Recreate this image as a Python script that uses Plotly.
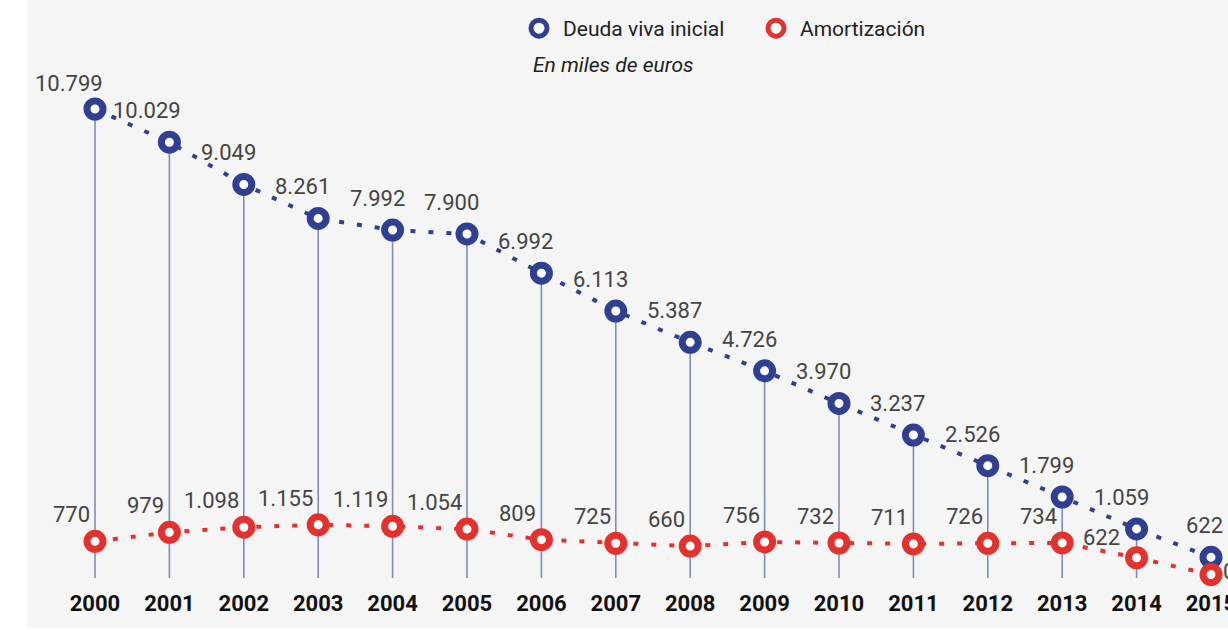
import plotly.graph_objects as go

# ---- data ----
years = list(range(2000, 2016))
deuda = [10799, 10029, 9049, 8261, 7992, 7900, 6992, 6113, 5387, 4726, 3970, 3237, 2526, 1799, 1059, 400]
amort = [770, 979, 1098, 1155, 1119, 1054, 809, 725, 660, 756, 732, 711, 726, 734, 390, 0]
deuda_labels = ["10.799", "10.029", "9.049", "8.261", "7.992", "7.900", "6.992", "6.113",
                "5.387", "4.726", "3.970", "3.237", "2.526", "1.799", "1.059", "622"]
amort_labels = ["770", "979", "1.098", "1.155", "1.119", "1.054", "809", "725",
                "660", "756", "732", "711", "726", "734", "622", "0"]
year_labels = [str(y) for y in years]
series_names = ["Deuda viva inicial", "Amortización"]
subtitle = "En miles de euros"

# ---- style ----
BLUE = "#2f3f92"
RED = "#e3312d"
STEM = "#7f8dbb"
BG = "#f5f5f5"
TXT = "#444444"
FONT = "Roboto"
STEM_BOTTOM = -80

W, H = 1228, 630
ML, MR, MT, MB = 27, 0, 0, 40

fig = go.Figure()

# stems
sx, sy = [], []
for yr, d in zip(years, deuda):
    sx += [yr, yr, None]
    sy += [d, STEM_BOTTOM, None]
fig.add_trace(go.Scatter(x=sx, y=sy, mode="lines", line=dict(color=STEM, width=1.6),
                         showlegend=False, hoverinfo="skip"))

dots = "5px,13px"
fig.add_trace(go.Scatter(x=years, y=amort, mode="lines", line=dict(color=RED, width=4, dash=dots),
                         showlegend=False, hoverinfo="skip"))
fig.add_trace(go.Scatter(x=years, y=deuda, mode="lines", line=dict(color=BLUE, width=4, dash=dots),
                         showlegend=False, hoverinfo="skip"))

mk = dict(size=16, color="white")
fig.add_trace(go.Scatter(x=years, y=deuda, mode="markers", name=series_names[0],
                         marker=dict(**mk, line=dict(color=BLUE, width=7))))
fig.add_trace(go.Scatter(x=years, y=amort, mode="markers", name=series_names[1],
                         marker=dict(**mk, line=dict(color=RED, width=7))))

# value labels
lab_font = dict(family=FONT, size=22, color=TXT)
last = len(years) - 1
for i, (yr, d, lab) in enumerate(zip(years, deuda, deuda_labels)):
    fig.add_annotation(x=yr, y=d, text=lab, showarrow=False, xanchor="right", yanchor="bottom",
                       xshift=14 if i else 10, yshift=17 if i else 11, font=lab_font)
for i, (yr, a, lab) in enumerate(zip(years, amort, amort_labels)):
    if i == last:
        fig.add_annotation(x=yr, y=a, text=lab, showarrow=False, xanchor="left", yanchor="middle",
                           xshift=10, yshift=3, font=lab_font)
    elif i == last - 1:
        fig.add_annotation(x=yr, y=a, text=lab, showarrow=False, xanchor="right", yanchor="bottom",
                           xshift=-15, yshift=6, font=lab_font)
    else:
        fig.add_annotation(x=yr, y=a, text=lab, showarrow=False, xanchor="right", yanchor="bottom",
                           xshift=-3, yshift=12, font=lab_font)

pw = W - ML - MR
ph = H - MT - MB
fig.add_annotation(xref="paper", yref="paper", x=(531 - ML) / pw, y=1 - (65 - MT) / ph,
                   xanchor="left", yanchor="middle", text=subtitle, showarrow=False,
                   font=dict(family=FONT, size=21, color="#222", style="italic"))

# white strips left / bottom
fig.add_shape(type="rect", xref="paper", yref="paper", x0=-ML / pw, x1=0, y0=-MB / ph, y1=1,
              fillcolor="white", line_width=0, layer="below")
fig.add_shape(type="rect", xref="paper", yref="paper", x0=-ML / pw, x1=1, y0=-MB / ph, y1=-(MB - 2) / ph,
              fillcolor="white", line_width=0, layer="below")

px_per_year = 74.4
x0 = 2000 - (95 - ML) / px_per_year
x1 = 2000 + (W - 95) / px_per_year
scale = 0.043111
zero_y = 574.56
y_lo = -((MT + ph) - zero_y) / scale
y_hi = (zero_y - MT) / scale

fig.update_layout(
    width=W, height=H, template="none",
    paper_bgcolor=BG, plot_bgcolor=BG,
    margin=dict(l=ML, r=MR, t=MT, b=MB, pad=0),
    showlegend=True,
    legend=dict(orientation="h", x=(515 - ML) / pw, xanchor="left", y=1 - 8 / ph, yanchor="top",
                font=dict(family=FONT, size=21, color="#222"), bgcolor="rgba(0,0,0,0)",
                entrywidth=184, itemwidth=38),
    xaxis=dict(range=[x0, x1], tickmode="array", tickvals=years, ticktext=year_labels,
               showgrid=False, zeroline=False, showline=False, ticks="", automargin=False,
               ticklabeloverflow="allow", ticklabelstandoff=-2,
               tickfont=dict(family=FONT, size=22, color="#111", weight="bold")),
    yaxis=dict(range=[y_lo, y_hi], visible=False, showgrid=False, zeroline=False),
    hovermode=False,
)

fig.write_html("out.html", config={"displayModeBar": False},
               post_script="document.body.style.margin='0px';")
